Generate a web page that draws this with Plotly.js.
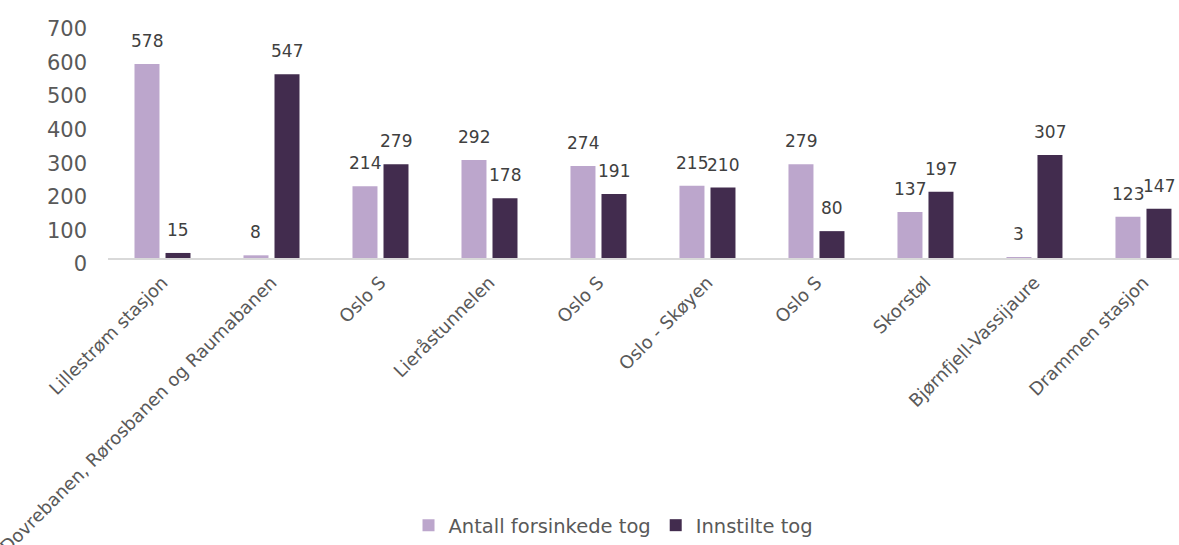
<!DOCTYPE html>
<html>
<head>
<meta charset="utf-8">
<script src="https://cdn.plot.ly/plotly-3.0.1.min.js"></script>
<style>html,body{margin:0;padding:0;background:#fff;}#chart{width:1179px;height:545px;}</style>
</head>
<body>
<div id="chart"></div>
<script>
const categories = ["Lillestrøm stasjon", "Dovrebanen, Rørosbanen og Raumabanen", "Oslo S", "Lieråstunnelen", "Oslo S", "Oslo - Skøyen", "Oslo S", "Skorstøl", "Bjørnfjell-Vassijaure", "Drammen stasjon"];
const delayed = [578, 8, 214, 292, 274, 215, 279, 137, 3, 123];
const cancelled = [15, 547, 279, 178, 191, 210, 80, 197, 307, 147];
const seriesNames = ["Antall forsinkede tog", "Innstilte tog"];
const colors = ["#BCA6CC", "#422C4E"];
const yTicks = [0, 100, 200, 300, 400, 500, 600, 700];

const idx = categories.map((c, i) => i);
const traces = [
  {type: "bar", name: seriesNames[0], x: idx, y: delayed, marker: {color: colors[0]}, hoverinfo: "y"},
  {type: "bar", name: seriesNames[1], x: idx, y: cancelled, marker: {color: colors[1]}, hoverinfo: "y"}
];

const labelFont = {family: "DejaVu Sans", size: 17, color: "#404040"};
const annotations = [];
[delayed, cancelled].forEach((vals, s) => {
  vals.forEach((v, i) => {
    annotations.push({
      x: i, y: v, xref: "x", yref: "y",
      text: String(v), showarrow: false,
      xanchor: "center", yanchor: "bottom",
      xshift: s === 0 ? -15.5 : 15.5, yshift: 11,
      font: labelFont
    });
  });
});

const layout = {
  width: 1179, height: 545,
  margin: {l: 108, r: 0, t: 23, b: 286, pad: 0},
  paper_bgcolor: "#fff", plot_bgcolor: "#fff",
  barmode: "group", bargap: 0.431, bargroupgap: 0.194,
  showlegend: true,
  legend: {
    orientation: "h", x: 0.472, xanchor: "center", y: -1.136, yanchor: "middle",
    font: {family: "DejaVu Sans", size: 19.5, color: "#595959"},
    traceorder: "normal", itemwidth: 30
  },
  xaxis: {
    range: [-0.5, 9.326], tickvals: idx, ticktext: categories,
    tickangle: -45, automargin: false, ticklabeloverflow: "allow",
    showgrid: false, zeroline: false,
    showline: true, linecolor: "#D9D9D9", linewidth: 2,
    ticks: "", ticklabelstandoff: 5,
    tickfont: {family: "DejaVu Sans", size: 18, color: "#595959"}
  },
  yaxis: {
    range: [0, 700], tickvals: yTicks, automargin: false,
    showgrid: false, zeroline: false, showline: false, ticks: "",
    ticklabelstandoff: 20, ticklabelshift: 6,
    tickfont: {family: "DejaVu Sans", size: 21, color: "#595959"}
  },
  annotations: annotations
};

Plotly.newPlot("chart", traces, layout, {displayModeBar: false, staticPlot: true});
</script>
</body>
</html>
